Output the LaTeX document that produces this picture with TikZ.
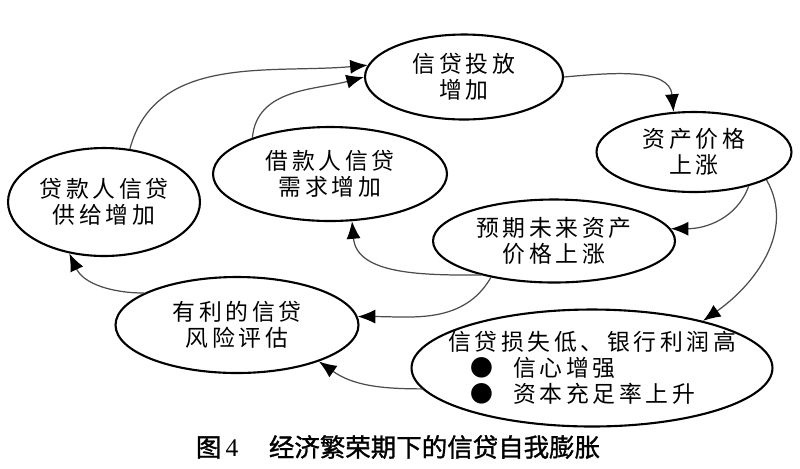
\documentclass[tikz,border=0pt]{standalone}
\usepackage{fontspec}
\setmainfont{Noto Sans CJK SC}
\newfontfamily\cjkfont[LetterSpace=16]{Noto Sans CJK SC}
\newfontfamily\capfont[FakeBold=1.2]{Noto Sans CJK SC}
\newfontfamily\numfont{Liberation Serif}
\usetikzlibrary{shapes.geometric, arrows.meta}

\begin{document}
\begin{tikzpicture}[
  x=0.02cm, y=0.02cm,
  every node/.style={font=\cjkfont\fontsize{13}{14.7}\selectfont},
  oval/.style={draw, ellipse, line width=1.2pt, inner sep=0pt, align=center},
  flow/.style={-{Latex[length=10pt, width=8pt, color=black]}, draw=black!70, line width=0.7pt}
]
\useasboundingbox (0,0) rectangle (800,-468);

% Upper cycle
\node[oval, minimum width=3.96cm, minimum height=1.7cm] (invest) at (464,-77) {信贷投放\\增加};
\node[oval, minimum width=3.9cm, minimum height=1.6cm] (asset) at (694,-152) {资产价格\\上涨};
\node[oval, minimum width=4.68cm, minimum height=1.88cm] (demand) at (330,-174) {借款人信贷\\需求增加};
\node[oval, minimum width=3.84cm, minimum height=2.16cm] (supply) at (104,-202) {贷款人信贷\\供给增加};

% Lower cycle
\node[oval, minimum width=4.84cm, minimum height=1.66cm] (expect) at (554,-241) {预期未来资产\\价格上涨};
\node[oval, minimum width=4.86cm, minimum height=1.92cm] (appraisal) at (237,-325) {有利的信贷\\风险评估};
\node[oval, minimum width=7.22cm, minimum height=2.34cm, inner xsep=-14pt, align=left] (loss) at (592,-368)
  {信贷损失低、银行利润高\\\hspace*{13pt}●\hspace{11pt}信心增强\\\hspace*{13pt}●\hspace{11pt}资本充足率上升};

% Arrows into credit supply
\draw[flow] (supply.64) to[out=75, in=185] (invest.173);
\draw[flow] (demand.155) to[out=85, in=195] (invest.180);
\draw[flow] (invest.0) to[out=5, in=95] (asset.117);

% Arrows out of asset prices
\draw[flow] (asset.-32) to[out=-110, in=0] (expect.6);
\draw[flow] (asset.-21) to[out=-60, in=35] (loss.23);

% Arrows out of expectations
\draw[flow] (expect.205) to[out=180, in=-85] (demand.295);
\draw[flow] (expect.210) to[out=-120, in=0] (appraisal.4);

% Back to the lenders
\draw[flow] (loss.187) to[out=180, in=-35] (appraisal.336);
\draw[flow] (appraisal.161) to[out=180, in=-65] (supply.236);

% Caption
\node[font=\capfont\fontsize{14.5}{16}\selectfont] (caption) at (398,-447) {图\,{\numfont 4}\hspace{1.2em}经济繁荣期下的信贷自我膨胀};

\end{tikzpicture}
\end{document}
